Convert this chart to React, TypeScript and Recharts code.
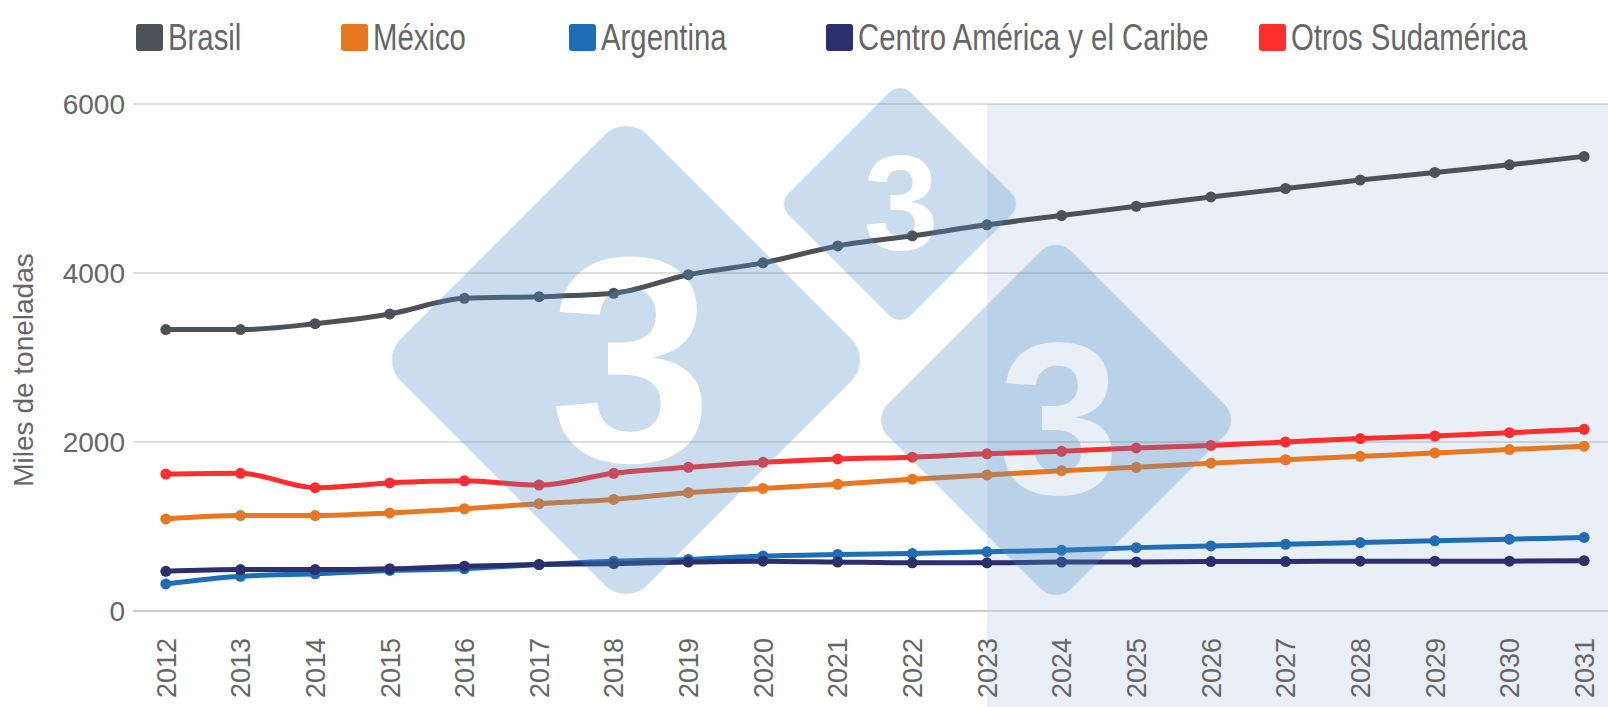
import React from 'react';
import { LineChart, Line, XAxis, YAxis, CartesianGrid, ReferenceArea } from 'recharts';

const years = [2012, 2013, 2014, 2015, 2016, 2017, 2018, 2019, 2020, 2021, 2022, 2023, 2024, 2025, 2026, 2027, 2028, 2029, 2030, 2031];
const brasil = [3330, 3330, 3400, 3515, 3700, 3720, 3760, 3980, 4120, 4320, 4440, 4570, 4680, 4790, 4900, 5000, 5100, 5190, 5280, 5380];
const mexico = [1090, 1130, 1130, 1160, 1210, 1270, 1320, 1400, 1450, 1500, 1560, 1610, 1660, 1700, 1750, 1790, 1830, 1870, 1910, 1950];
const argentina = [320, 410, 440, 480, 500, 550, 590, 610, 650, 670, 680, 700, 720, 750, 770, 790, 810, 830, 850, 870];
const centro = [470, 490, 490, 500, 530, 550, 560, 580, 590, 580, 570, 570, 580, 580, 585, 585, 590, 590, 590, 595];
const otros = [1620, 1630, 1460, 1515, 1540, 1490, 1630, 1700, 1760, 1800, 1820, 1860, 1890, 1930, 1960, 2000, 2040, 2070, 2110, 2150];
const yTicks = [0, 2000, 4000, 6000];
const forecastStart = 2023;
const yAxisTitle = 'Miles de toneladas';

const series = [
  { key: 'brasil', name: 'Brasil', color: '#4d5258', values: brasil },
  { key: 'mexico', name: 'México', color: '#e87722', values: mexico },
  { key: 'argentina', name: 'Argentina', color: '#1f6db5', values: argentina },
  { key: 'centro', name: 'Centro América y el Caribe', color: '#2b2f6e', values: centro },
  { key: 'otros', name: 'Otros Sudamérica', color: '#fe2e2e', values: otros },
];

const data = years.map((year, i) => {
  const row: Record<string, number> = { year };
  series.forEach((s) => {
    row[s.key] = s.values[i];
  });
  return row;
});

const W = 1608;
const H = 707;
const FONT = "'Liberation Sans', Arial, sans-serif";
const legendLeft = [136, 341, 569, 826, 1259];

const watermarks = [
  { cx: 626, cy: 360, h: 234, r: 30, tx: 631, ty: 461, fs: 293 },
  { cx: 900, cy: 204, h: 116, r: 15, tx: 901, ty: 249, fs: 135 },
  { cx: 1056, cy: 420, h: 175, r: 22, tx: 1059, ty: 494, fs: 218 },
];

const XTick = (props: any) => {
  const { x, y, payload } = props;
  const ay = y + 27;
  return (
    <text
      x={x}
      y={ay}
      dy="0.36em"
      transform={`rotate(-90, ${x}, ${ay})`}
      textAnchor="end"
      fill="#666"
      fontSize={27}
      fontFamily={FONT}
    >
      {payload.value}
    </text>
  );
};

export default function App() {
  return (
    <div style={{ position: 'absolute', left: 0, top: 0, width: W, height: H, background: '#fff', fontFamily: FONT }}>
      <div style={{ position: 'absolute', left: 0, top: 0 }}>
        <LineChart width={W} height={H} data={data} margin={{ top: 104, right: 0, bottom: 0, left: 0 }}>
          <ReferenceArea
            x1={forecastStart}
            x2={2031.32}
            y1={-1150}
            y2={6000}
            ifOverflow="visible"
            fill="#1e64b4"
            fillOpacity={0.1}
            stroke="none"
          />
          <CartesianGrid vertical={false} stroke="#dedede" strokeWidth={2} />
          <XAxis
            dataKey="year"
            type="number"
            domain={[2011.56, 2031.32]}
            ticks={years}
            interval={0}
            allowDataOverflow
            height={96}
            tickSize={0}
            tickMargin={0}
            tickLine={false}
            axisLine={{ stroke: '#cccccc', strokeWidth: 2 }}
            tick={<XTick />}
          />
          <YAxis
            domain={[0, 6000]}
            ticks={yTicks}
            width={133}
            axisLine={false}
            tickLine={false}
            tick={{ fill: '#666', fontSize: 28, fontFamily: FONT }}
          />
          {series.map((s) => (
            <Line
              key={s.key}
              type="monotone"
              dataKey={s.key}
              name={s.name}
              stroke={s.color}
              strokeWidth={5}
              dot={{ r: 5.5, fill: s.color, stroke: s.color, strokeWidth: 0 }}
              activeDot={false}
              isAnimationActive={false}
            />
          ))}
        </LineChart>
      </div>
      <svg width={W} height={H} style={{ position: 'absolute', left: 0, top: 0, pointerEvents: 'none' }}>
        <text
          x={23}
          y={370}
          transform="rotate(-90, 23, 370)"
          textAnchor="middle"
          dominantBaseline="central"
          fill="#666"
          fontSize={28}
          fontFamily={FONT}
        >
          {yAxisTitle}
        </text>
        {series.map((s, i) => (
          <g key={s.key}>
            <rect x={legendLeft[i]} y={24} width={27} height={27} rx={3} fill={s.color} />
            <text
              transform={`translate(${legendLeft[i] + 32}, 50) scale(0.815, 1)`}
              fill="#666"
              fontSize={36}
              fontFamily={FONT}
            >
              {s.name}
            </text>
          </g>
        ))}
        <defs>
          <mask id="wm-mask" maskUnits="userSpaceOnUse" x={0} y={0} width={W} height={H}>
            <rect x={0} y={0} width={W} height={H} fill="#fff" />
            {watermarks.map((m, i) => (
              <text
                key={i}
                x={m.tx}
                y={m.ty}
                textAnchor="middle"
                fontSize={m.fs}
                fontWeight={700}
                fontFamily={FONT}
                fill="#000"
              >
                3
              </text>
            ))}
          </mask>
        </defs>
        <g mask="url(#wm-mask)">
          {watermarks.map((m, i) => {
            const s = Math.SQRT2 * (m.h + (Math.SQRT2 - 1) * m.r);
            return (
              <rect
                key={i}
                x={-s / 2}
                y={-s / 2}
                width={s}
                height={s}
                rx={m.r}
                transform={`translate(${m.cx}, ${m.cy}) rotate(45)`}
                fill="rgb(75,142,198)"
                fillOpacity={0.3}
              />
            );
          })}
        </g>
      </svg>
    </div>
  );
}
